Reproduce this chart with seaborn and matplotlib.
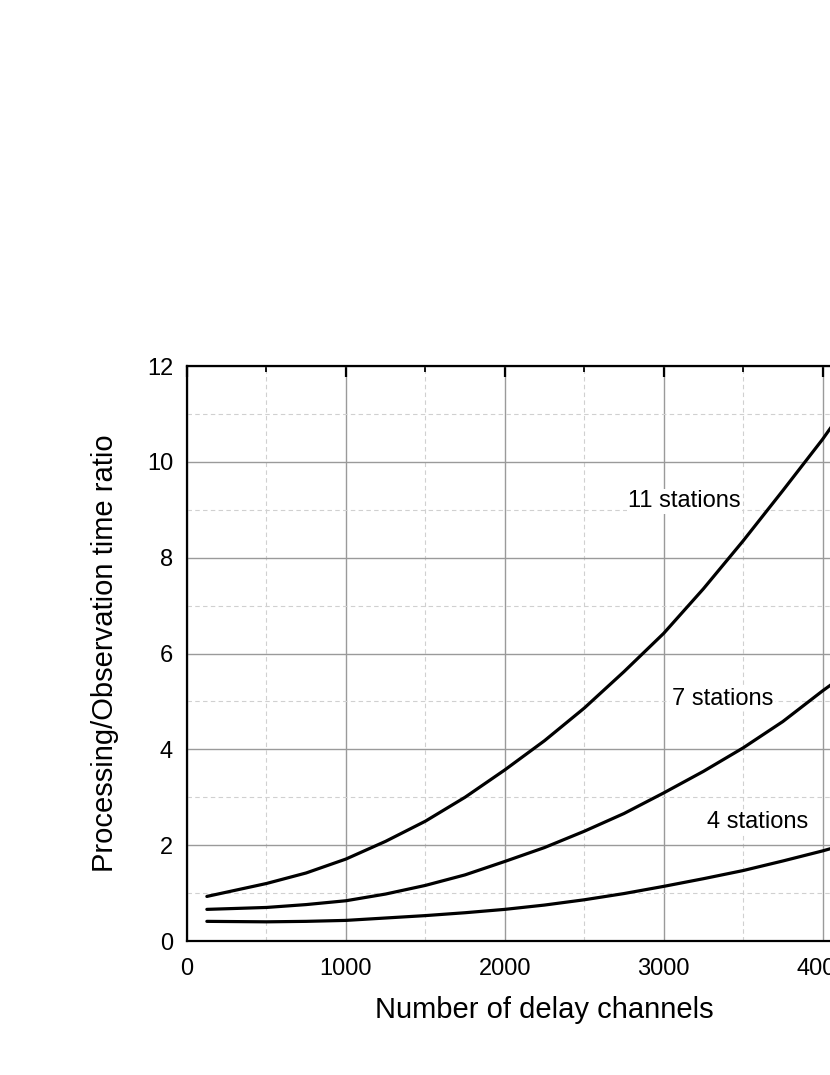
import numpy as np
import pandas as pd
import matplotlib
matplotlib.use("Agg")
import matplotlib.pyplot as plt
from matplotlib.ticker import MultipleLocator
import seaborn as sns

# values
channels = [125, 500, 750, 1000, 1250, 1500, 1750, 2000, 2250, 2500,
            2750, 3000, 3250, 3500, 3750, 4000, 4096]
ratio_11 = [0.93, 1.20, 1.42, 1.71, 2.08, 2.50, 3.00, 3.57, 4.18, 4.86,
            5.62, 6.42, 7.35, 8.35, 9.40, 10.47, 10.92]
ratio_7 = [0.66, 0.70, 0.76, 0.84, 0.98, 1.16, 1.38, 1.66, 1.95, 2.29,
           2.66, 3.09, 3.54, 4.03, 4.58, 5.22, 5.45]
ratio_4 = [0.41, 0.40, 0.41, 0.43, 0.48, 0.53, 0.59, 0.66, 0.75, 0.86,
           0.99, 1.14, 1.30, 1.47, 1.67, 1.88, 1.97]

curve_labels = ["11 stations", "7 stations", "4 stations"]
label_x = [3130, 3370, 3590]
label_y = [9.18, 5.06, 2.48]

df = pd.concat([
    pd.DataFrame({"channels": channels, "ratio": r, "series": name})
    for name, r in zip(curve_labels, [ratio_11, ratio_7, ratio_4])
])

sns.set_style("white")
plt.rcParams['font.family'] = ['Liberation Sans', 'DejaVu Sans']
plt.rcParams['text.color'] = 'black'
plt.rcParams['axes.labelcolor'] = 'black'
plt.rcParams['xtick.color'] = 'black'
plt.rcParams['ytick.color'] = 'black'

fig = plt.figure(figsize=(8.3, 10.75), dpi=100)
# the axes runs past the right edge of the figure, as in the reference
ax = fig.add_axes([187 / 830, 134 / 1075, 715 / 830, 575 / 1075])

sns.lineplot(data=df, x="channels", y="ratio", hue="series",
             palette=["black"] * 3, linewidth=2.3, legend=False, ax=ax, zorder=3)

ax.set_xlim(0, 4500)
ax.set_ylim(0, 12)
ax.xaxis.set_major_locator(MultipleLocator(1000))
ax.xaxis.set_minor_locator(MultipleLocator(500))
ax.yaxis.set_major_locator(MultipleLocator(2))
ax.yaxis.set_minor_locator(MultipleLocator(1))

ax.grid(which="major", color="#9a9a9a", linewidth=1.0, linestyle="-", zorder=0)
ax.grid(which="minor", color="#d0d0d0", linewidth=0.8, linestyle=(0, (4, 3)), zorder=0)
ax.set_axisbelow(True)

for s in ax.spines.values():
    s.set_linewidth(1.6)
    s.set_color("black")

ax.tick_params(which="major", direction="in", length=7.7, width=1.6,
               top=True, right=True, labelsize=17)
ax.tick_params(axis="y", which="major", pad=10)
ax.tick_params(axis="x", which="major", pad=12)
ax.tick_params(which="minor", direction="in", length=4, width=1.3,
               top=True, right=True)

ax.set_xlabel("Number of delay channels", fontsize=21, labelpad=12)
ax.set_ylabel("Processing/Observation time ratio", fontsize=21, labelpad=20)

for name, lx, ly in zip(curve_labels, label_x, label_y):
    ax.text(lx, ly, name, fontsize=17, ha="center", va="center", zorder=4,
            bbox=dict(facecolor="white", edgecolor="none", pad=1))

fig.savefig("out.png", dpi=100)
